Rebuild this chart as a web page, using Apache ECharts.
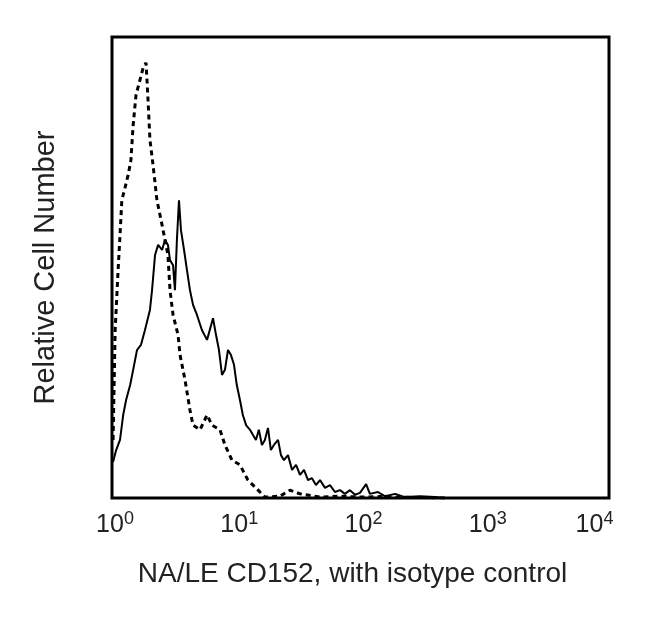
<!DOCTYPE html>
<html>
<head>
<meta charset="utf-8">
<script src="https://cdn.jsdelivr.net/npm/echarts@6/dist/echarts.min.js"></script>
<style>html,body{margin:0;padding:0;background:#fff;}#c{width:650px;height:622px;}</style>
</head>
<body>
<div id="c"></div>
<script>
// Isotype control (dashed)
var isoX = [1.02,1.06,1.12,1.16,1.20,1.27,1.35,1.42,1.48,1.56,1.68,1.78,1.88,1.95,2.02,2.14,2.30,2.53,2.67,2.82,2.93,3.10,3.40,3.53,3.87,4.24,4.49,5.11,5.82,6.38,7.40,8.11,9.24,10.7,12.4,15.0,17.0,22.5,27.1,32.6,47.2,68.4,99,144,208,301,479];
var isoY = [12.6,36.4,49.5,57.0,64.6,67.2,70.1,73.3,80.9,87.4,90.7,93.3,94.4,86.3,77.7,72.2,64.6,59.2,56.0,52.7,45.1,39.7,35.4,31.0,25.6,19.1,15.8,14.8,18.0,15.8,14.8,11.5,8.2,7.2,3.9,1.7,0.2,0.4,1.7,0.9,0.2,0.4,0.2,0.3,0.2,0.1,0];
// NA/LE CD152 (solid)
var cdX = [1.02,1.08,1.16,1.23,1.30,1.40,1.48,1.59,1.71,1.84,2.02,2.10,2.22,2.35,2.53,2.67,2.82,2.93,3.10,3.21,3.33,3.46,3.59,3.80,4.01,4.24,4.49,4.83,5.30,5.82,6.50,6.87,7.26,7.68,8.11,8.58,9.07,9.59,10.1,10.7,11.3,12.0,12.9,13.6,14.4,15.2,16.1,17.0,18.0,19.0,20.1,21.7,22.9,24.2,26.1,28.1,30.3,32.6,35.1,37.8,40.7,43.8,47.2,51.8,56.8,62.3,68.4,75.0,82.3,90.3,99,111,119,138,157,190,228,301,398,479];
var cdY = [7.8,10.4,12.6,18.0,21.3,24.5,27.8,32.1,33.2,36.4,40.8,45.1,52.7,54.9,53.8,56.0,54.9,51.6,50.5,45.1,56.0,64.6,58.1,53.8,49.5,45.1,41.9,39.7,36.4,34.3,39.0,35.4,32.1,26.7,27.8,32.1,31.0,28.9,24.5,21.3,18.0,15.8,14.8,13.7,12.6,14.8,11.5,12.6,15.2,10.4,11.5,12.6,9.3,8.2,9.3,6.1,7.2,5.0,6.1,3.9,4.3,2.8,3.9,2.2,2.8,1.3,1.7,0.9,1.7,0.7,1.1,3.0,0.9,1.3,0.4,0.9,0.2,0.4,0.2,0];
var tickValues = [1,10,100,1000,10000];

function pairs(xs, ys){ return xs.map(function(x,i){ return [x, ys[i]]; }); }

var chart = echarts.init(document.getElementById('c'));
var font = 'Liberation Sans, Arial, Helvetica, sans-serif';
chart.setOption({
  animation: false,
  backgroundColor: '#fff',
  grid: { left: 112, right: 41, top: 37, bottom: 124, show: true, borderColor: '#000', borderWidth: 3, backgroundColor: 'transparent' },
  xAxis: {
    type: 'log', logBase: 10, min: 1, max: 10000,
    axisLine: { show: false },
    axisTick: { show: false },
    splitLine: { show: false },
    minorTick: { show: false },
    axisLabel: {
      margin: 12,
      fontFamily: font,
      color: '#222',
      formatter: function(v){
        var e = Math.round(Math.log10(v));
        if (e === 4) return '{b|10}{s2|' + e + '}';
        return '{a|10}{s|' + e + '}';
      },
      rich: {
        a: { fontSize: 25, fontFamily: font, color: '#222', padding: [0,0,0,6], verticalAlign: 'bottom' },
        b: { fontSize: 25, fontFamily: font, color: '#222', verticalAlign: 'bottom' },
        s: { fontSize: 18, fontFamily: font, color: '#222', verticalAlign: 'top', padding: [0,0,10,0] },
        s2: { fontSize: 18, fontFamily: font, color: '#222', verticalAlign: 'top', padding: [0,29,10,0] }
      }
    },
    name: 'NA/LE CD152, with isotype control',
    nameLocation: 'middle',
    nameGap: 62,
    nameTextStyle: { fontSize: 28, fontFamily: font, color: '#222', padding: [0,16,0,0] }
  },
  yAxis: {
    type: 'value', min: 0, max: 100,
    axisLine: { show: false }, axisTick: { show: false }, axisLabel: { show: false }, splitLine: { show: false },
    name: 'Relative Cell Number',
    nameLocation: 'middle',
    nameGap: 52,
    nameTextStyle: { fontSize: 29, fontFamily: font, color: '#222' }
  },
  series: [
    { name: 'CD152', type: 'line', data: pairs(cdX, cdY), showSymbol: false, symbol: 'none',
      lineStyle: { color: '#000', width: 2 } },
    { name: 'Isotype', type: 'line', data: pairs(isoX, isoY), showSymbol: false, symbol: 'none',
      lineStyle: { color: '#000', width: 3, type: [5,4] } }
  ]
});
</script>
</body>
</html>
